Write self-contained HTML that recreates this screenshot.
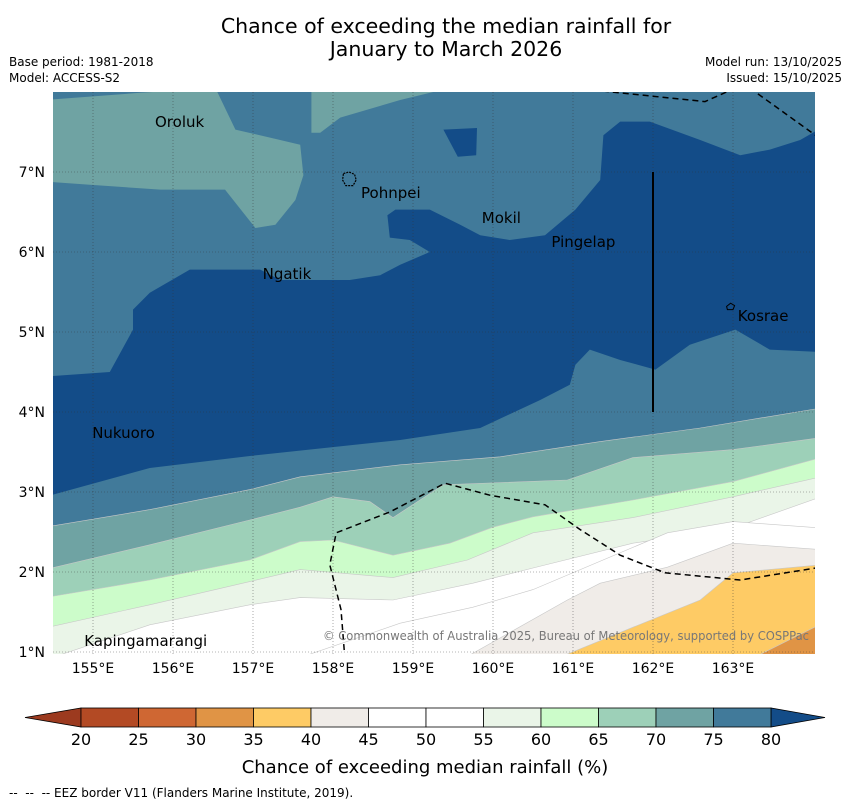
<!DOCTYPE html>
<html><head><meta charset="utf-8"><style>
html,body{margin:0;padding:0;background:#fff;}
body{width:850px;height:804px;overflow:hidden;font-family:"DejaVu Sans","Liberation Sans",sans-serif;}
svg text{font-family:"DejaVu Sans","Liberation Sans",sans-serif;}
</style></head><body>
<svg id="chart" width="850" height="804" viewBox="0 0 850 804" xmlns="http://www.w3.org/2000/svg">
<text x="446" y="33" font-size="20.5" text-anchor="middle">Chance of exceeding the median rainfall for</text>
<text x="446" y="56" font-size="20.5" text-anchor="middle">January to March 2026</text>
<text x="9" y="66" font-size="12">Base period: 1981-2018</text>
<text x="9" y="82" font-size="12">Model: ACCESS-S2</text>
<text x="842" y="66" font-size="12" text-anchor="end">Model run: 13/10/2025</text>
<text x="842" y="82" font-size="12" text-anchor="end">Issued: 15/10/2025</text>
<defs><clipPath id="mapclip"><rect x="53" y="92" width="762" height="562"/></clipPath></defs>
<g id="map" clip-path="url(#mapclip)"></g>
<g id="overlay"></g>
<g id="cbar"></g>
<text x="425" y="773" font-size="18" text-anchor="middle">Chance of exceeding median rainfall (%)</text>
<text x="9" y="797" font-size="12">-- &#160;-- &#160;-- EEZ border V11 (Flanders Marine Institute, 2019).</text>
</svg>
<script>
// ---- data ----
const lonTicks = [155,156,157,158,159,160,161,162,163];
const latTicks = [1,2,3,4,5,6,7];
const levels = [20,25,30,35,40,45,50,55,60,65,70,75,80];
const levelColors = ["#b34a24","#cf6733","#e09445","#fecb65","#f0ece8","#ffffff","#ffffff","#eaf5e8","#ccfcca","#9dd0b8","#6fa3a3","#417a9a"];
const underColor = "#9c3a1f";
const overColor = "#134c88";
const darkRegion = [[154.5,4.45],[155.21,4.5],[155.5,5.03],[155.5,5.28],[155.71,5.49],[156.21,5.78],[157.09,5.78],[157.34,5.65],[158.21,5.65],[158.59,5.71],[158.84,5.84],[159.21,6.0],[158.96,6.15],[158.71,6.18],[158.68,6.46],[158.78,6.53],[159.21,6.53],[159.59,6.34],[159.84,6.21],[160.21,6.15],[160.65,6.21],[161.03,6.53],[161.34,6.9],[161.38,7.46],[161.59,7.63],[161.96,7.63],[162.59,7.4],[163.09,7.21],[163.46,7.28],[163.84,7.4],[164.1,7.55],[164.1,4.75],[163.46,4.78],[163.03,5.03],[162.46,4.84],[162.03,4.53],[161.59,4.65],[161.21,4.78],[161.03,4.59],[160.96,4.34],[160.59,4.15],[159.84,3.8],[158.84,3.65],[156.96,3.45],[155.71,3.3],[154.4,2.94]];
const darkSquare = [[159.38,7.53],[159.8,7.55],[159.79,7.21],[159.56,7.19]];
const orolukPatch = [[154.4,7.9],[155.59,7.99],[156.53,8.05],[156.78,7.53],[157.34,7.4],[157.59,7.34],[157.63,6.96],[157.53,6.65],[157.28,6.34],[157.03,6.3],[156.65,6.78],[155.84,6.78],[154.96,6.84],[154.4,6.88]];
const topPatch = [[157.73,8.05],[159.46,8.05],[158.84,7.9],[158.09,7.68],[157.84,7.49],[157.73,7.49]];
const b75 = [[154.4,2.56],[155.71,2.78],[156.96,3.03],[157.59,3.19],[158.84,3.34],[160.09,3.44],[161.34,3.63],[162.59,3.8],[164.1,4.05]];
const b70 = [[154.4,2.03],[155.71,2.34],[156.96,2.65],[157.59,2.81],[158,2.94],[158.46,2.88],[158.75,2.68],[159.38,3.09],[160.93,3.15],[161.75,3.43],[163,3.53],[164.1,3.68]];
const b65 = [[154.4,1.68],[155.71,1.9],[156.96,2.15],[157.59,2.38],[158,2.4],[158.75,2.21],[159.46,2.36],[160,2.56],[160.5,2.69],[161.75,2.9],[163,3.13],[164.1,3.43]];
const b60 = [[154.4,1.3],[155.71,1.59],[156.96,1.88],[157.59,2.03],[158.75,1.93],[159.68,2.15],[160.5,2.49],[161.75,2.68],[163,2.94],[164.1,3.19]];
const b55 = [[154.4,0.9],[155.71,1.34],[156.96,1.59],[157.59,1.68],[158.75,1.65],[159.75,1.86],[160.5,2.05],[161.75,2.36],[163,2.55],[164.1,2.94]];
const b50 = [[157.5,0.9],[158.84,1.36],[159.75,1.56],[160.5,1.78],[162.18,2.49],[163,2.63],[164.1,2.55]];
const b45 = [[159.6,0.9],[160.93,1.65],[161.34,1.86],[162.18,2.06],[163,2.36],[164.1,2.28]];
const b40 = [[160.75,0.9],[161.75,1.31],[162.59,1.65],[163,1.99],[164.1,2.09]];
const b35 = [[163.2,0.9],[164.1,1.35]];
const eezSouth = [[158.15,0.9],[158.1,1.53],[157.96,2.09],[158.04,2.49],[158.71,2.75],[159.4,3.11],[159.96,2.96],[160.65,2.84],[161.09,2.53],[161.59,2.21],[162.15,1.99],[163.09,1.9],[164.1,2.06]];
const eezNorth1 = [[161,8.05],[162.65,7.88],[163.03,8.05]];
const eezNorth2 = [[163.21,8.05],[164.03,7.46]];
const placeNames = ["Oroluk","Pohnpei","Mokil","Pingelap","Ngatik","Kosrae","Nukuoro","Kapingamarangi"];
const placeLon = [155.775,158.35,159.86,160.73,157.12,163.06,154.99,154.89];
const placeLat = [7.56,6.675,6.36,6.06,5.66,5.14,3.675,1.075];
const pohnpeiOutline = [[158.13,6.98],[158.2,7.0],[158.27,6.97],[158.29,6.9],[158.25,6.83],[158.16,6.83],[158.12,6.9]];
const kosraeOutline = [[162.92,5.32],[162.97,5.36],[163.02,5.33],[163.0,5.28],[162.93,5.28]];
// ---- axes ----
const X = lon => 93 + (lon-155)*80;
const Y = lat => 172 - (lat-7)*80;
const NS = "http://www.w3.org/2000/svg";
const mk = (tag, attrs, parent) => { const e = document.createElementNS(NS, tag); for (const k in attrs) e.setAttribute(k, attrs[k]); parent.appendChild(e); return e; };
const pts = arr => arr.map(p => X(p[0]).toFixed(1)+","+Y(p[1]).toFixed(1)).join(" ");
const map = document.getElementById("map");
const ov = document.getElementById("overlay");
const cb = document.getElementById("cbar");

let r = mk("rect",{x:X(154.5),y:Y(8),width:X(164.03)-X(154.5),height:Y(0.975)-Y(8),fill:levelColors[11]},map);


let p = mk("polygon",{points:pts(orolukPatch),fill:levelColors[10]},map);


p = mk("polygon",{points:pts(topPatch),fill:levelColors[10]},map);


p = mk("polygon",{points:pts(darkRegion),fill:overColor},map);


p = mk("polygon",{points:pts(darkSquare),fill:overColor},map);



const bands = [[b75,10,"band-70-75"],[b70,9,"band-65-70"],[b65,8,"band-60-65"],[b60,7,"band-55-60"],[b55,6,"band-50-55"],[b50,5,"band-45-50"],[b45,4,"band-40-45"],[b40,3,"band-35-40"],[b35,2,"band-30-35"]];
bands.forEach(b => {
  const arr = b[0].concat([[164.1,0.5],[b[0][0][0],0.5]]);
  const poly = mk("polygon",{points:pts(arr),fill:levelColors[b[1]],stroke:"#c8c8c8","stroke-width":0.6},map);
  
  
});

// grid
lonTicks.forEach(l => {
  const g = mk("line",{x1:X(l),x2:X(l),y1:Y(8),y2:Y(0.975),stroke:"#333","stroke-width":0.6,"stroke-dasharray":"1,2","opacity":0.7},map);
  
  
  const t = mk("text",{x:X(l),y:673,"font-size":14,"text-anchor":"middle"},ov);
  t.textContent = l+"°E";
  
  
});
latTicks.forEach(l => {
  const g = mk("line",{x1:X(154.5),x2:X(164.1),y1:Y(l),y2:Y(l),stroke:"#333","stroke-width":0.6,"stroke-dasharray":"1,2","opacity":0.7},map);
  
  
  const t = mk("text",{x:45,y:Y(l)+5,"font-size":14,"text-anchor":"end"},ov);
  t.textContent = l+"°N";
  
  
});

// EEZ borders
[[eezSouth,'eez-border-south'],[eezNorth1,'eez-border-north'],[eezNorth2,'eez-border-northeast']].forEach(e => {
  const l = mk("polyline",{points:pts(e[0]),fill:"none",stroke:"#000","stroke-width":1.5,"stroke-dasharray":"6,4"},map);
  
  
});
let vl = mk("line",{x1:X(162),x2:X(162),y1:Y(7),y2:Y(4),stroke:"#000","stroke-width":2},map);


let isl = mk("polygon",{points:pts(pohnpeiOutline),fill:"none",stroke:"#000","stroke-width":1.2,"stroke-dasharray":"2,1"},map);


isl = mk("polygon",{points:pts(kosraeOutline),fill:"none",stroke:"#000","stroke-width":1},map);



placeNames.forEach((n,i) => {
  const t = mk("text",{x:X(placeLon[i]),y:Y(placeLat[i]),"font-size":15,fill:"#000"},map);
  t.textContent = n;
  
  
});
const cr = mk("text",{x:809,y:640,"font-size":12,fill:"#777","text-anchor":"end",textLength:486,lengthAdjust:"spacingAndGlyphs"},map);
cr.textContent = "© Commonwealth of Australia 2025, Bureau of Meteorology, supported by COSPPac";



// colorbar
const CX = v => 81 + (v-20)*11.5;
const cy0 = 708, cy1 = 727;
let tri = mk("polygon",{points:`${CX(20)},${cy0} ${CX(20)},${cy1} 25,${(cy0+cy1)/2}`,fill:underColor,stroke:"#000","stroke-width":0.8},cb);


tri = mk("polygon",{points:`${CX(80)},${cy0} ${CX(80)},${cy1} 825,${(cy0+cy1)/2}`,fill:overColor,stroke:"#000","stroke-width":0.8},cb);


levelColors.forEach((c,i) => {
  const s = mk("rect",{x:CX(levels[i]),y:cy0,width:CX(levels[i+1])-CX(levels[i]),height:cy1-cy0,fill:c,stroke:"#000","stroke-width":0.8},cb);
  
  
});
levels.forEach(v => {
  const t = mk("text",{x:CX(v),y:745,"font-size":16,"text-anchor":"middle"},cb);
  t.textContent = v;
  
  
});
</script>
</body></html>
